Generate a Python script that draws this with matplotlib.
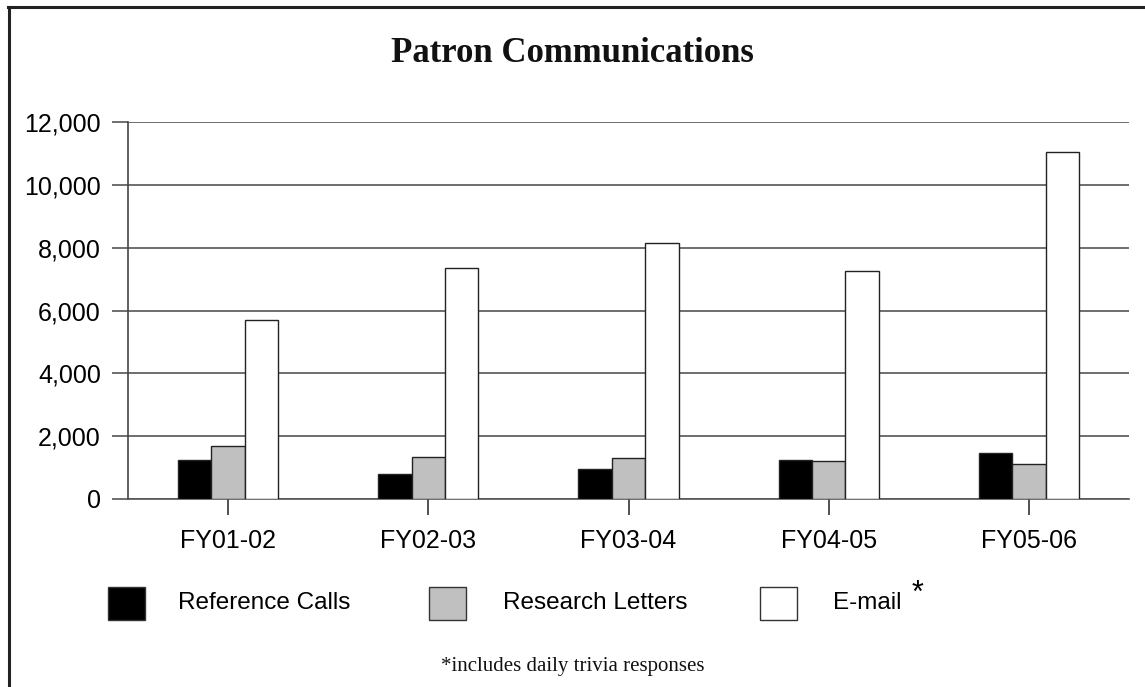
import matplotlib
matplotlib.use("Agg")
import matplotlib.pyplot as plt
from matplotlib.patches import Rectangle
from matplotlib.lines import Line2D
import numpy as np

years = ["FY01-02", "FY02-03", "FY03-04", "FY04-05", "FY05-06"]
reference_calls = [1250, 800, 950, 1250, 1450]
research_letters = [1700, 1350, 1300, 1200, 1100]
email = [5700, 7350, 8150, 7250, 11050]

series_names = ["Reference Calls", "Research Letters", "E-mail"]
series_colors = ["#000000", "#c0c0c0", "#ffffff"]

W, H = 1145, 687
fig = plt.figure(figsize=(W / 100, H / 100), dpi=100)


def px(x, y):
    """pixel position (from top left) -> figure fraction"""
    return x / W, 1 - y / H


# plot area
ax = fig.add_axes([128 / W, 1 - 499 / H, (1129 - 128) / W, (499 - 122) / H])
x = np.arange(len(years))
bw = 1 / 6
for i, (vals, col) in enumerate(zip([reference_calls, research_letters, email], series_colors)):
    ax.bar(x + (i - 1) * bw, vals, width=bw, color=col, edgecolor="#222222",
           linewidth=1.0, zorder=3, label=series_names[i])

ax.set_xlim(-0.5, len(years) - 0.5)
ax.set_ylim(0, 12000)
ax.set_yticks(np.arange(0, 12001, 2000))
ax.set_yticklabels([f"{v:,}" for v in range(0, 12001, 2000)])
ax.set_xticks(x)
ax.set_xticklabels(years)
ax.yaxis.grid(True, color="#555555", linewidth=1.2, zorder=0)
for s in ["top", "right"]:
    ax.spines[s].set_visible(False)
ax.spines["left"].set_color("#444444")
ax.spines["bottom"].set_color("#555555")
ax.spines["left"].set_linewidth(1.2)
ax.spines["bottom"].set_linewidth(1.2)
ax.tick_params(axis="y", length=11.5, width=1.2, color="#555555", pad=8,
               labelsize=18, labelfontfamily="Liberation Sans")
ax.tick_params(axis="x", length=11.5, width=1.2, color="#333333", pad=10,
               labelsize=18, labelfontfamily="Liberation Sans")

# title and footnote
fig.text(*px(572, 53), "Patron Communications", ha="center", va="center",
         fontsize=25, fontweight="bold", family="Liberation Serif", color="#111111")
fig.text(*px(573, 667), "*includes daily trivia responses", ha="center", va="center",
         fontsize=15, family="Liberation Serif", color="#111111")

# legend drawn by hand
legend_x = [108, 429, 760]
text_x = [178, 503, 833]
for lx, tx, name, col in zip(legend_x, text_x, series_names, series_colors):
    x0, y0 = px(lx, 620)
    fig.patches.append(Rectangle((x0, y0), 37 / W, 33 / H, transform=fig.transFigure,
                                 facecolor=col, edgecolor="#333333", linewidth=1.0))
    fig.text(*px(tx, 603), name, ha="left", va="center", fontsize=17.5,
             family="Liberation Sans")
fig.text(*px(918, 594), "*", ha="center", va="center", fontsize=22,
         family="Liberation Sans")

# frame: top and left edges only
fig.add_artist(Line2D([8 / W, 1], [1 - 7 / H, 1 - 7 / H], transform=fig.transFigure,
                      color="#222222", linewidth=2.2))
fig.add_artist(Line2D([9 / W, 9 / W], [0, 1 - 7 / H], transform=fig.transFigure,
                      color="#222222", linewidth=2.2))

fig.savefig("out.png", dpi=100)
